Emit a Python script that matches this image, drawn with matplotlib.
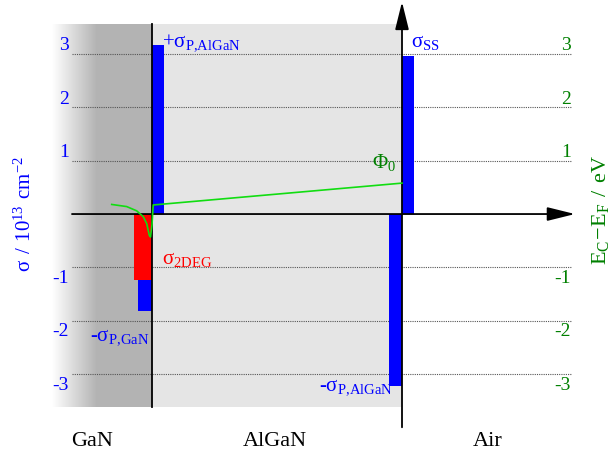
import numpy
import matplotlib
matplotlib.use("Agg")
import matplotlib.pyplot as plt
from matplotlib.patches import Rectangle

# ── Data ─────────────────────────────────────────────────────────────────────
# x in nm: GaN/AlGaN interface at 0, AlGaN/air surface at 25
# sheet charges in 1e13 cm^-2, conduction band in eV

gan_left = -10.0
algan_right = 25.0

sheet_labels = ["+σP,AlGaN", "-σP,GaN", "σ2DEG", "σSS", "-σP,AlGaN"]
sheet_pos = [0.0, 0.0, 0.0, 25.0, 25.0]
sheet_width = [1.2, -1.4, -1.8, 1.2, -1.3]
sheet_sigma = [3.17, -1.82, -1.24, 2.97, -3.23]
sheet_color = ["blue", "blue", "red", "blue", "blue"]

band_x = [-4.03, -2.53, -1.53, -0.87, -0.53, -0.27, -0.15, 0.0, 0.12, 25.0]
band_e = [0.18, 0.14, 0.06, -0.05, -0.18, -0.40, -0.43, -0.20, 0.17, 0.58]

grid_levels = [-3, -2, -1, 1, 2, 3]
tick_text = ["-3", "-2", "-1", "1", "2", "3"]

layer_names = ["GaN", "AlGaN", "Air"]
layer_centers = [-6.0, 12.3, 33.6]

# ── Figure ───────────────────────────────────────────────────────────────────
plt.rcParams["font.family"] = ["Liberation Serif", "DejaVu Serif"]
plt.rcParams["mathtext.fontset"] = "custom"
plt.rcParams["mathtext.rm"] = "Liberation Serif"

fig = plt.figure(figsize=(6.14, 4.55), dpi=100)
ax = fig.add_axes([0, 0, 1, 1])

top, bottom = 3.565, -3.62
fade_end = -5.5

# layer backgrounds: GaN fades in from the left, AlGaN light grey
edges = numpy.linspace(gan_left, fade_end, 46)
for i in range(len(edges) - 1):
    g = 1.0 - 0.30 * (i + 0.5) / (len(edges) - 1)
    ax.add_patch(Rectangle((edges[i], bottom), edges[i + 1] - edges[i] + 0.02, top - bottom,
                           color=(g, g, g), lw=0, zorder=0))
ax.add_patch(Rectangle((fade_end, bottom), -fade_end, top - bottom, color="#b3b3b3", lw=0, zorder=0))
ax.add_patch(Rectangle((0, bottom), algan_right, top - bottom, color="#e5e5e5", lw=0, zorder=0))

# dotted levels
for v in grid_levels:
    ax.plot([-8, 42], [v, v], color="#555555", lw=0.8, ls=(0, (1, 1)), zorder=1)

# sheet charges
for x0, w, s, c in zip(sheet_pos, sheet_width, sheet_sigma, sheet_color):
    ax.add_patch(Rectangle((x0, 0), w, s, color=c, lw=0, zorder=2 if c == "blue" else 3))

# interface line and axes arrows
arrow = dict(arrowstyle="-|>,head_length=1.7,head_width=0.42",
             color="black", lw=1.3, shrinkA=0, shrinkB=0)
ax.plot([0, 0], [bottom, top], color="black", lw=1.3, zorder=4)
ax.annotate("", xy=(42.3, 0), xytext=(-8, 0), arrowprops=arrow, zorder=5)
ax.annotate("", xy=(algan_right, 3.98), xytext=(algan_right, -4.0), arrowprops=arrow, zorder=5)

# conduction band edge
ax.plot(band_x, band_e, color="#11dd11", lw=1.2, zorder=6)

# ── Labels ───────────────────────────────────────────────────────────────────
lab_kw = dict(fontsize=15, va="baseline")
ax.text(1.0, 3.15, r"+$\mathregular{σ_{P{,}AlGaN}}$", color="blue", **lab_kw)
ax.text(25.9, 3.13, r"$\mathregular{σ_{SS}}$", color="blue", **lab_kw)
ax.text(1.0, -0.94, r"$\mathregular{σ_{2DEG}}$", color="red", **lab_kw)
ax.text(-6.2, -2.36, r"-$\mathregular{σ_{P{,}GaN}}$", color="blue", **lab_kw)
ax.text(24.1, -3.30, r"-$\mathregular{σ_{P{,}AlGaN}}$", color="blue", ha="right", **lab_kw)
ax.text(22.0, 0.86, r"$\mathregular{Φ_0}$", color="green", **lab_kw)

for v, t in zip(grid_levels, tick_text):
    va = "baseline" if v > 0 else "top"
    off = 0.07 if v > 0 else -0.05
    ax.text(-8.3, v + off, t, color="blue", fontsize=14, ha="right", va=va)
    ax.text(41.9, v + off, t, color="green", fontsize=14, ha="right", va=va)

ax.text(-12.7, 0.0, r"$\mathregular{σ\ /\ 10^{13}\ cm^{-2}}$", color="blue",
        fontsize=15, rotation=90, ha="center", va="center")
ax.text(44.9, 0.07, r"$\mathregular{E_C\!-\!E_F\ /\ eV}$", color="green",
        fontsize=16, rotation=90, ha="center", va="center")

for name, xc in zip(layer_names, layer_centers):
    ax.text(xc, -4.26, name, fontsize=16, ha="center", va="center")

ax.set_xlim(-15.2, 46.2)
ax.set_ylim(-4.52, 4.015)
ax.axis("off")

fig.savefig("out.png", dpi=100)
